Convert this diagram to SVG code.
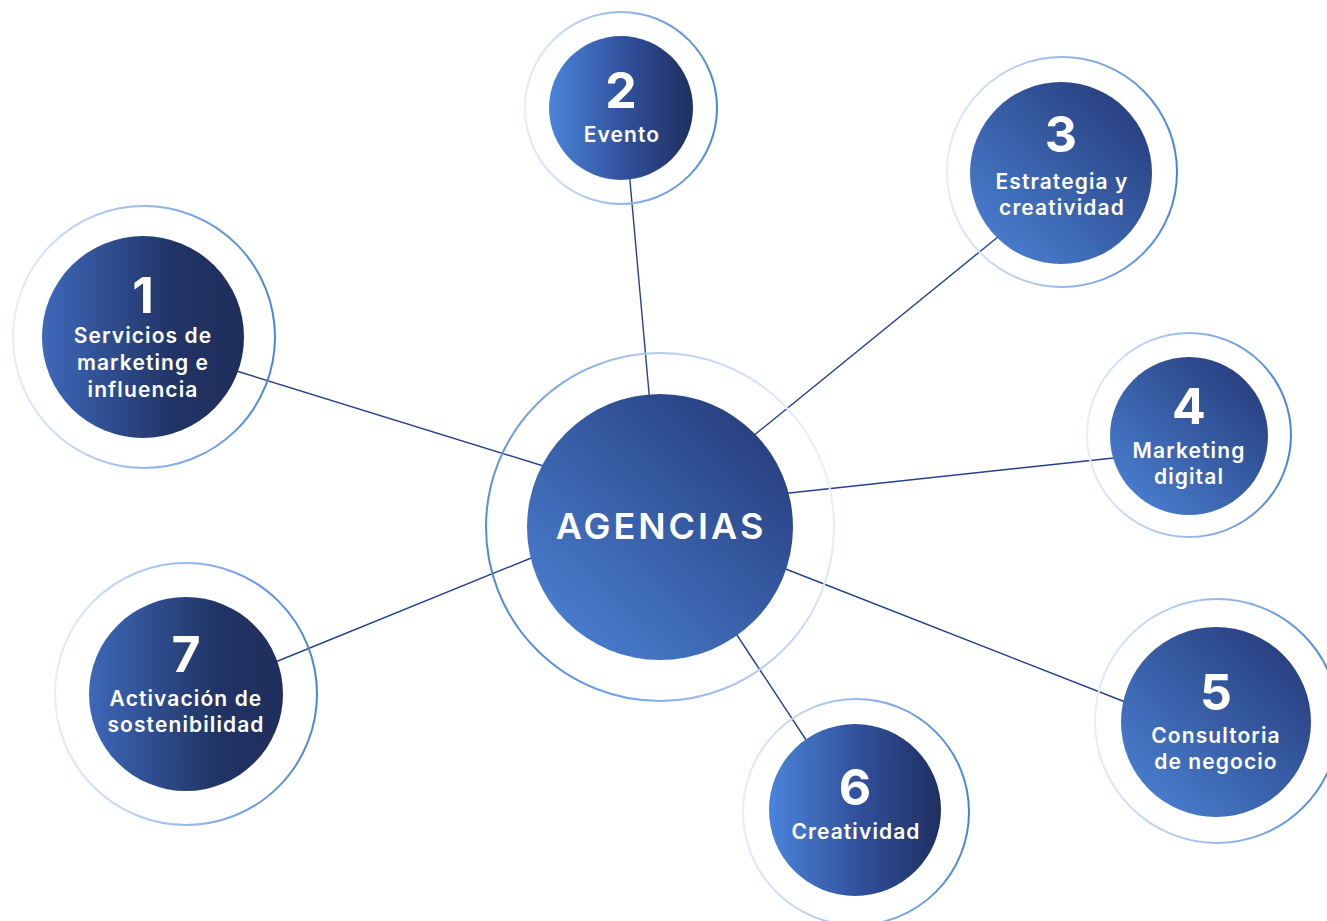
<svg xmlns="http://www.w3.org/2000/svg" width="1327" height="921" viewBox="0 0 1327 921">
<defs>
<linearGradient id="gH" x1="0" y1="0" x2="1" y2="0"><stop offset="0" stop-color="#4a84da"/><stop offset="0.55" stop-color="#304e98"/><stop offset="1" stop-color="#1f2f5f"/></linearGradient>
<linearGradient id="gHd" x1="0" y1="0" x2="1" y2="0"><stop offset="0" stop-color="#3e68ba"/><stop offset="0.65" stop-color="#213466"/><stop offset="1" stop-color="#1f2e5c"/></linearGradient>
<linearGradient id="gD" x1="0.1" y1="0.95" x2="0.95" y2="0.05"><stop offset="0" stop-color="#4a80d2"/><stop offset="1" stop-color="#253a78"/></linearGradient>
<linearGradient id="rR" x1="0" y1="0" x2="1" y2="0"><stop offset="0" stop-color="#e4eefb"/><stop offset="1" stop-color="#4a84da"/></linearGradient>
<linearGradient id="rC" x1="0" y1="0.6" x2="1" y2="0.3"><stop offset="0" stop-color="#5088dc"/><stop offset="1" stop-color="#eef3fc"/></linearGradient>
</defs>
<style>
.ring{fill:none;stroke-width:2}
.lbl{font-family:Inter,"Liberation Sans",sans-serif;font-weight:600;fill:#ffffff;text-anchor:middle}
.num{font-size:50px;font-weight:700}
.txt{font-size:21px;letter-spacing:1.1px}
.conn line{stroke:#24418e;stroke-width:1.4}
</style>
<rect width="1327" height="921" fill="#ffffff"/>
<g id="connectors" class="conn">
<line x1="230" y1="369" x2="553" y2="469"/>
<line x1="629" y1="170" x2="650" y2="404"/>
<line x1="1004" y1="232" x2="747" y2="441"/>
<line x1="1123" y1="457" x2="780" y2="494"/>
<line x1="1133" y1="705" x2="778" y2="566"/>
<line x1="812" y1="749" x2="731" y2="626"/>
<line x1="268" y1="665" x2="541" y2="554"/>
</g>
<g id="center">
<circle class="ring" cx="660" cy="527" r="174" stroke="url(#rC)"/>
<circle cx="660" cy="527" r="133" fill="url(#gD)"/>
<text class="lbl" x="661" y="539" font-size="36" font-weight="500" letter-spacing="3">AGENCIAS</text>
</g>
<g id="node1">
<circle class="ring" cx="144" cy="337" r="131" stroke="url(#rR)"/>
<circle cx="143" cy="337" r="101" fill="url(#gHd)"/>
<text class="lbl num" x="143" y="313">1</text>
<text class="lbl txt" x="143" y="343">Servicios de</text>
<text class="lbl txt" x="143" y="370">marketing e</text>
<text class="lbl txt" x="143" y="397">influencia</text>
</g>
<g id="node2">
<circle class="ring" cx="621" cy="108" r="96" stroke="url(#rR)"/>
<circle cx="621" cy="108" r="72" fill="url(#gH)"/>
<text class="lbl num" x="621" y="108">2</text>
<text class="lbl txt" x="622" y="142">Evento</text>
</g>
<g id="node3">
<circle class="ring" cx="1062" cy="172" r="115" stroke="url(#rR)"/>
<circle cx="1061" cy="173" r="91" fill="url(#gD)"/>
<text class="lbl num" x="1061" y="152">3</text>
<text class="lbl txt" x="1062" y="189">Estrategia y</text>
<text class="lbl txt" x="1062" y="215">creatividad</text>
</g>
<g id="node4">
<circle class="ring" cx="1189" cy="435" r="102" stroke="url(#rR)"/>
<circle cx="1189" cy="436" r="79" fill="url(#gD)"/>
<text class="lbl num" x="1189" y="424">4</text>
<text class="lbl txt" x="1189" y="458">Marketing</text>
<text class="lbl txt" x="1189" y="484">digital</text>
</g>
<g id="node5">
<circle class="ring" cx="1217" cy="721" r="122" stroke="url(#rR)"/>
<circle cx="1216" cy="722" r="95" fill="url(#gD)"/>
<text class="lbl num" x="1216" y="710">5</text>
<text class="lbl txt" x="1216" y="743">Consultoria</text>
<text class="lbl txt" x="1216" y="769">de negocio</text>
</g>
<g id="node6">
<circle class="ring" cx="856" cy="812" r="113" stroke="url(#rR)"/>
<circle cx="855" cy="810" r="86" fill="url(#gH)"/>
<text class="lbl num" x="855" y="805">6</text>
<text class="lbl txt" x="856" y="839">Creatividad</text>
</g>
<g id="node7">
<circle class="ring" cx="186" cy="694" r="131" stroke="url(#rR)"/>
<circle cx="186" cy="694" r="97" fill="url(#gHd)"/>
<text class="lbl num" x="186" y="672">7</text>
<text class="lbl txt" x="186" y="706">Activación de</text>
<text class="lbl txt" x="186" y="732">sostenibilidad</text>
</g>
</svg>
